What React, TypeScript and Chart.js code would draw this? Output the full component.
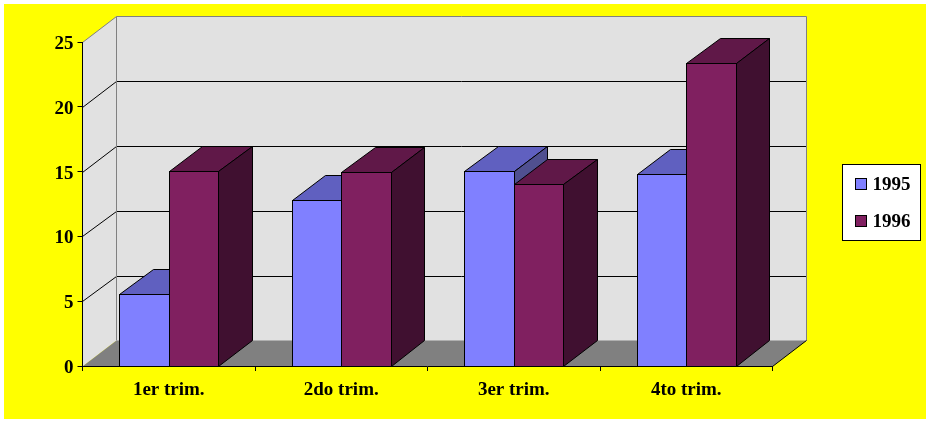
import React, { useEffect, useRef } from "react";
import { Chart, registerables } from "chart.js";

Chart.register(...registerables);

const categories = ["1er trim.", "2do trim.", "3er trim.", "4to trim."];
const values1995 = [5.55, 12.8, 15.05, 14.8];
const values1996 = [15.05, 15, 14.05, 23.4];
const seriesNames = ["1995", "1996"];
const frontColors = ["#8080FF", "#802060"];
const topColors = ["#6060C0", "#601848"];
const sideColors = ["#505090", "#401030"];
const FONT = "bold 19px 'Liberation Serif'";
const DX = 34;
const DY = 26;

function poly(ctx: CanvasRenderingContext2D, pts: number[][], fill: string | null, stroke: string | null) {
  ctx.beginPath();
  pts.forEach((p, i) => (i ? ctx.lineTo(p[0], p[1]) : ctx.moveTo(p[0], p[1])));
  ctx.closePath();
  if (fill) {
    ctx.fillStyle = fill;
    ctx.fill();
  }
  if (stroke) {
    ctx.strokeStyle = stroke;
    ctx.lineWidth = 1;
    ctx.stroke();
  }
}

function line(ctx: CanvasRenderingContext2D, x1: number, y1: number, x2: number, y2: number, color: string) {
  ctx.beginPath();
  ctx.moveTo(x1, y1);
  ctx.lineTo(x2, y2);
  ctx.strokeStyle = color;
  ctx.lineWidth = 1;
  ctx.stroke();
}

const scenePlugin = {
  id: "scene",
  afterDatasetsUpdate(chart: any) {
    // snap the bar elements to whole pixels so that their outlines stay crisp
    chart.data.datasets.forEach((_: any, i: number) => {
      chart.getDatasetMeta(i).data.forEach((bar: any) => {
        const l = Math.round(bar.x - bar.width / 2);
        const r = Math.round(bar.x + bar.width / 2);
        bar.rawLeft = bar.x - bar.width / 2;
        bar.rawRight = bar.x + bar.width / 2;
        bar.x = (l + r + 1) / 2;
        bar.width = r - l + 1;
        bar.y = Math.round(bar.y);
        bar.base = Math.round(bar.base) + 1;
      });
    });
  },
  beforeDraw(chart: any) {
    const { ctx, width, height, chartArea: a, scales } = chart;
    ctx.save();
    ctx.fillStyle = "#FFFFFF";
    ctx.fillRect(0, 0, width, height);
    ctx.fillStyle = "#FFFF00";
    ctx.fillRect(4, 4, width - 8, height - 7);
    const L = Math.floor(a.left) + 0.5;
    const R = Math.floor(a.right) + 0.5;
    const T = a.top + 0.5;
    const B = a.bottom + 0.5;
    // walls and floor
    poly(ctx, [[L, T], [L + DX, T - DY], [L + DX, B - DY], [L, B]], "#E1E1E1", null);
    poly(ctx, [[L + DX - 1, T - DY], [R + DX, T - DY], [R + DX, B - DY + 1], [L + DX - 1, B - DY + 1]], "#E1E1E1", null);
    poly(ctx, [[L, B], [L + DX, B - DY], [R + DX, B - DY], [R, B]], "#808080", null);
    // gridlines on both walls
    scales.y.ticks.forEach((t: any) => {
      if (t.value === 0 || t.value === scales.y.max) return;
      const p = scales.y.getPixelForValue(t.value);
      const y = Math.round(p) + 0.5;
      const yBack = Math.round(p - 25.6) + 0.5;
      line(ctx, L, y, L + DX, yBack, "#000000");
      line(ctx, L + DX, yBack, R + DX, yBack, "#000000");
    });
    // wall outlines
    line(ctx, L, T, L + DX, T - DY, "#808080");
    line(ctx, L + DX, T - DY, R + DX, T - DY, "#808080");
    line(ctx, L + DX, T - DY, L + DX, B - DY, "#808080");
    line(ctx, R + DX, T - DY, R + DX, B - DY, "#808080");
    line(ctx, R, B, R + DX, B - DY, "#000000");
    ctx.restore();
  },
  beforeDatasetsDraw(chart: any) {
    const { ctx } = chart;
    ctx.save();
    chart.data.datasets.forEach((_: any, i: number) => {
      chart.getDatasetMeta(i).data.forEach((bar: any) => {
        const l = bar.x - bar.width / 2 + 0.5;
        const r = bar.x + bar.width / 2 - 0.5;
        const lb = Math.round(bar.rawLeft + 33.5) + 0.5;
        const rb = Math.round(bar.rawRight + 33.5) + 0.5;
        const t = bar.y + 0.5;
        const b = bar.base - 0.5;
        poly(ctx, [[l, t], [lb, t - 25], [rb, t - 25], [r, t]], topColors[i], "#000000");
        poly(ctx, [[r, t], [rb, t - 25], [rb, b - DY], [r, b]], sideColors[i], "#000000");
      });
    });
    ctx.restore();
  },
  afterDraw(chart: any) {
    const { ctx } = chart;
    ctx.save();
    ctx.fillStyle = "#FFFFFF";
    ctx.fillRect(842.5, 164.5, 78, 76);
    ctx.strokeStyle = "#000000";
    ctx.lineWidth = 1;
    ctx.strokeRect(842.5, 164.5, 78, 76);
    ctx.font = FONT;
    ctx.textBaseline = "middle";
    ctx.textAlign = "left";
    chart.data.datasets.forEach((ds: any, i: number) => {
      const y = 178.5 + i * 37;
      ctx.fillStyle = ds.backgroundColor;
      ctx.fillRect(855.5, y, 11, 11);
      ctx.strokeRect(855.5, y, 11, 11);
      ctx.fillStyle = "#000000";
      ctx.fillText(ds.label, 872.5, y + 7);
    });
    ctx.restore();
  },
};

export default function App() {
  const ref = useRef<HTMLCanvasElement>(null);
  useEffect(() => {
    const chart = new Chart(ref.current!, {
      type: "bar",
      data: {
        labels: categories,
        datasets: [
          { label: seriesNames[0], data: values1995, backgroundColor: frontColors[0], borderColor: "#000000", borderWidth: 1 },
          { label: seriesNames[1], data: values1996, backgroundColor: frontColors[1], borderColor: "#000000", borderWidth: 1 },
        ],
      },
      options: {
        responsive: false,
        animation: false,
        devicePixelRatio: 1,
        layout: { padding: { top: 42, right: 157.5, left: 0, bottom: 0 } },
        plugins: { legend: { display: false }, tooltip: { enabled: false }, title: { display: false } },
        datasets: { bar: { barPercentage: 1, categoryPercentage: 0.572 } },
        scales: {
          x: {
            afterFit: (s: any) => { s.height = 56; },
            grid: { offset: true, drawOnChartArea: false, drawTicks: true, tickLength: 5, color: "#000000" },
            border: { color: "#000000", width: 1 },
            ticks: { color: "#000000", font: { family: "'Liberation Serif'", size: 19, weight: "bold" }, padding: 8, maxRotation: 0 },
          },
          y: {
            min: 0,
            max: 25,
            afterFit: (s: any) => { s.width = 82.5; },
            grid: { drawOnChartArea: false, drawTicks: true, tickLength: 5, color: "#000000" },
            border: { color: "#000000", width: 1 },
            ticks: { stepSize: 5, color: "#000000", font: { family: "'Liberation Serif'", size: 19, weight: "bold" }, padding: 4, labelOffset: 2 },
          },
        },
      },
      plugins: [scenePlugin],
    } as any);
    return () => chart.destroy();
  }, []);
  return (
    <canvas
      ref={ref}
      width={930}
      height={422}
      style={{ position: "absolute", left: 0, top: 0, display: "block", width: 930, height: 422 }}
    />
  );
}
